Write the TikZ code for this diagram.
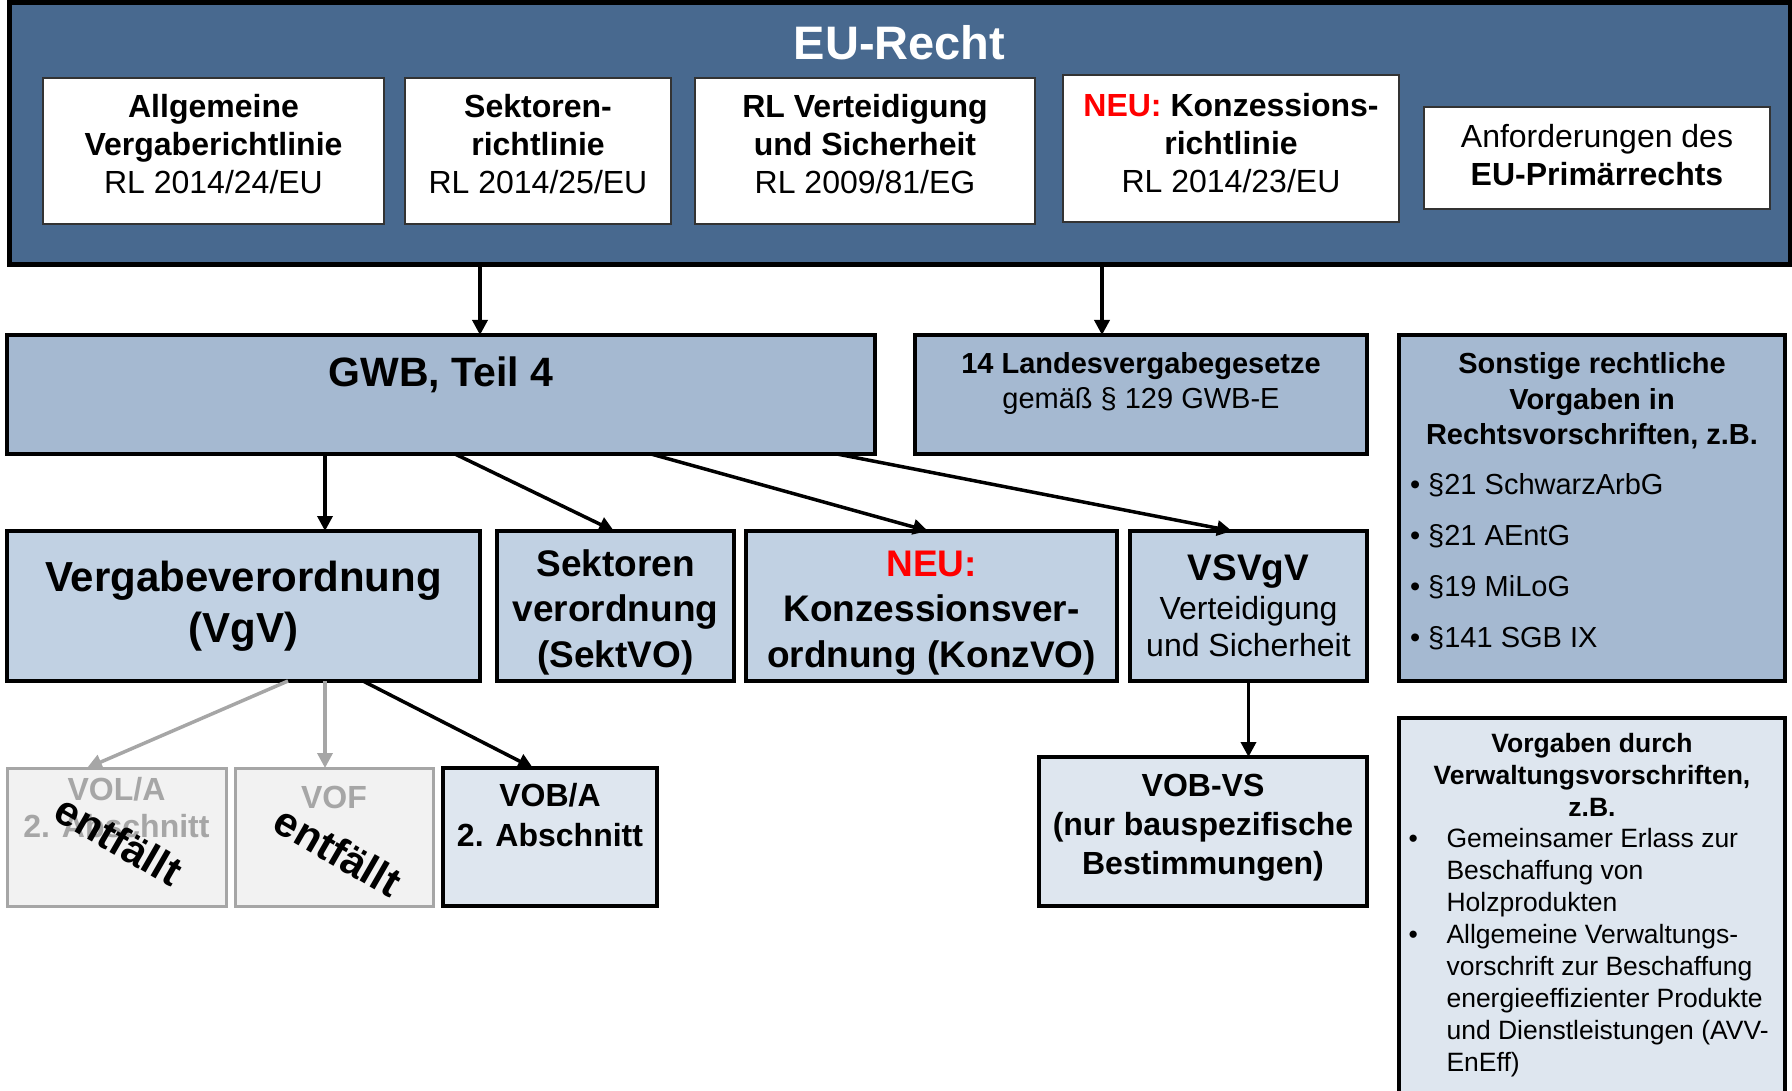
\documentclass[tikz,border=0pt]{standalone}
\usepackage{fontspec}
\setmainfont{Liberation Sans}
\usetikzlibrary{arrows.meta,positioning}
\definecolor{eu-blue}{HTML}{48698F}
\definecolor{gwb-blue}{HTML}{A5B9D1}
\definecolor{vo-blue}{HTML}{C1D1E3}
\definecolor{pale-blue}{HTML}{DEE6EF}
\definecolor{old-grey}{HTML}{A6A6A6}
\definecolor{old-fill}{HTML}{F2F2F2}
\definecolor{neu-red}{HTML}{FF0000}
\newcommand{\fs}[2]{\fontsize{#1}{#2}\selectfont}
\newcommand{\neu}{\textcolor{neu-red}{NEU:}}
\newcommand{\vwvitem}{\makebox[38pt][l]{\textbullet}}
\newcommand{\vwvskip}{\hspace*{38pt}}

\begin{document}
\begin{tikzpicture}[
    x=1pt, y=-1pt,
    node distance=20pt,
    >={Triangle[length=15pt,width=15pt]}
  ]

  % Styles for boxes and links
  \tikzset{
    frame/.style={draw, line width=3.5pt, inner sep=0pt, outer sep=0pt, align=center},
    rl/.style={draw=black!80, fill=white, line width=2pt, inner sep=0pt, outer sep=0pt, align=center, minimum height=146pt, text depth=14pt, font=\fs{32}{38}},
    law/.style={frame, fill=gwb-blue, minimum height=119pt},
    vo/.style={frame, fill=vo-blue, minimum height=150pt, font=\bfseries\fs{37}{45.5}},
    sub/.style={frame, fill=pale-blue, font=\bfseries\fs{32}{39}},
    old/.style={frame, draw=old-grey, fill=old-fill, line width=3pt, minimum height=138pt},
    link/.style={->, line width=3.5pt},
    oldlink/.style={link, old-grey},
    gone/.style={rotate=-30, font=\bfseries\fs{42}{42}}
  }

  \useasboundingbox (0,0) rectangle (1792,1091);
  \clip (0,0) rectangle (1792,1091);

  % EU level
  \node (eu) [draw, line width=5pt, fill=eu-blue, inner sep=0pt, outer sep=0pt,
    minimum width=1781pt, minimum height=262pt, anchor=north west] at (9,3) {};
  \node (eutitle) [text=white, font=\bfseries\fs{47}{47}] at (899.5,43) {EU-Recht};

  \node (rlgen) [rl, minimum width=341pt] at (213.5,151) {\textbf{Allgemeine}\\\textbf{Vergaberichtlinie}\\RL 2014/24/EU};
  \node (rlsek) [rl, minimum width=266pt, right=21pt of rlgen] {\textbf{Sektoren-}\\\textbf{richtlinie}\\RL 2014/25/EU};
  \node (rlvs) [rl, minimum width=340pt, right=24pt of rlsek] {\textbf{RL Verteidigung}\\\textbf{und Sicherheit}\\RL 2009/81/EG};
  \node (rlkonz) [rl, minimum width=336pt, minimum height=147pt, text depth=12pt, right=28pt of rlvs, yshift=2.5pt] {\textbf{\neu{} Konzessions-}\\\textbf{richtlinie}\\RL 2014/23/EU};
  \node (primaer) [rl, line width=2.5pt, text depth=6pt, minimum width=346pt, minimum height=102pt, right=25pt of rlkonz, yshift=-9.5pt] {Anforderungen des\\\textbf{EU-Primärrechts}};

  % National laws
  \node (gwb) [law, minimum width=868pt] at (441,394.5) {};
  \node (gwbtext) [font=\bfseries\fs{41}{41}] at (441,374.5) {GWB, Teil 4};

  \node (landes) [law, minimum width=452pt, right=40pt of gwb] {};
  \node (landestext) [font=\fs{29}{35}, align=center] at (1141,383.5) {\textbf{14 Landesvergabegesetze}\\gemäß § 129 GWB-E};

  \node (sonst) [law, minimum width=386pt, minimum height=346pt, anchor=north west] at (1399,335) {};
  \node (sonsttitle) [font=\bfseries\fs{29}{35.5}, align=center] at (1592,401) {Sonstige rechtliche\\Vorgaben in\\Rechtsvorschriften, z.B.};
  \node (sonstlist) [font=\fs{29}{51}, align=left, anchor=west] at (1406.5,562) {\textbullet\ §21 SchwarzArbG\\\textbullet\ §21 AEntG\\\textbullet\ §19 MiLoG\\\textbullet\ §141 SGB IX};

  % Verordnungen
  \node (vgv) [vo, minimum width=473pt, font=\bfseries\fs{42}{51}] at (243.5,606) {Vergabeverordnung\\(VgV)};
  \node (sektvo) [vo, minimum width=237pt, text height=130pt, right=17pt of vgv] {Sektoren\\verordnung\\(SektVO)};
  \node (konzvo) [vo, minimum width=371pt, text height=130pt, right=12pt of sektvo] {\neu\\Konzessionsver-\\ordnung (KonzVO)};
  \node (vsvgv) [vo, minimum width=237pt, right=13pt of konzvo, font=\fs{32}{37}] {{\bfseries\fs{37}{37}VSVgV}\\[2pt]Verteidigung\\und Sicherheit};

  % Vergabeordnungen
  \node (vola) [old, minimum width=219pt] at (116.5,837) {};
  \node (volatext) [text=old-grey, font=\bfseries\fs{32}{37}, align=center] at (116.5,807.5) {VOL/A\\2. Abschnitt};
  \node (vof) [old, minimum width=198pt, right=9pt of vola] {};
  \node (voftext) [text=old-grey, font=\bfseries\fs{32}{32}] at (334,797) {VOF};
  \node (vobA) [sub, minimum width=214pt, minimum height=138pt, right=10pt of vof] {};
  \node (vobAtext) [font=\bfseries\fs{32}{40}, align=center] at (550,815) {VOB/A\\2. Abschnitt};
  \node (volagone) [gone] at (119,840) {entfällt};
  \node (vofgone) [gone] at (338,851) {entfällt};

  \node (vobvs) [sub, minimum width=328pt, minimum height=149pt, text depth=14pt] at (1203,831.5) {VOB-VS\\(nur bauspezifische\\Bestimmungen)};

  % Verwaltungsvorschriften
  \node (vwv) [frame, fill=pale-blue, minimum width=386pt, minimum height=385pt, anchor=north west] at (1399,718) {};
  \node (vwvtitle) [font=\bfseries\fs{26.5}{32}, align=center] at (1592,775) {Vorgaben durch\\Verwaltungsvorschriften,\\z.B.};
  \node (vwvlist) [font=\fs{26.5}{32}, align=left, anchor=west] at (1405,953) {\vwvitem Gemeinsamer Erlass zur\\\vwvskip Beschaffung von\\\vwvskip Holzprodukten\\\vwvitem Allgemeine Verwaltungs-\\\vwvskip vorschrift zur Beschaffung\\\vwvskip energieeffizienter Produkte\\\vwvskip und Dienstleistungen (AVV-\\\vwvskip EnEff)};

  % Links
  \coordinate (gwbin) at ([xshift=39pt]gwb.north);
  \coordinate (landesin) at ([xshift=-39pt]landes.north);
  \coordinate (vgvin) at ([xshift=81.5pt]vgv.north);
  \coordinate (vofin) at ([xshift=-9pt]vof.north);
  \draw[link] (gwbin |- eu.south) -- (gwbin);
  \draw[link] (landesin |- eu.south) -- (landesin);
  \draw[link] (vgvin |- gwb.south) -- (vgvin);
  \draw[link] ([xshift=14pt]gwb.south) -- ([xshift=-1.5pt]sektvo.north);
  \draw[link] ([xshift=210pt]gwb.south) -- ([xshift=-3.5pt]konzvo.north);
  \draw[link] ([xshift=396pt]gwb.south) -- ([xshift=-16.5pt]vsvgv.north);
  \draw[oldlink] ([xshift=44.5pt]vgv.south) -- ([xshift=-29.5pt]vola.north);
  \draw[oldlink] (vofin |- vgv.south) -- (vofin);
  \draw[link] ([xshift=119.5pt]vgv.south) -- ([xshift=-17pt]vobA.north);
  \draw[link] (vsvgv.south) -- (vsvgv.south |- vobvs.north);

\end{tikzpicture}
\end{document}
